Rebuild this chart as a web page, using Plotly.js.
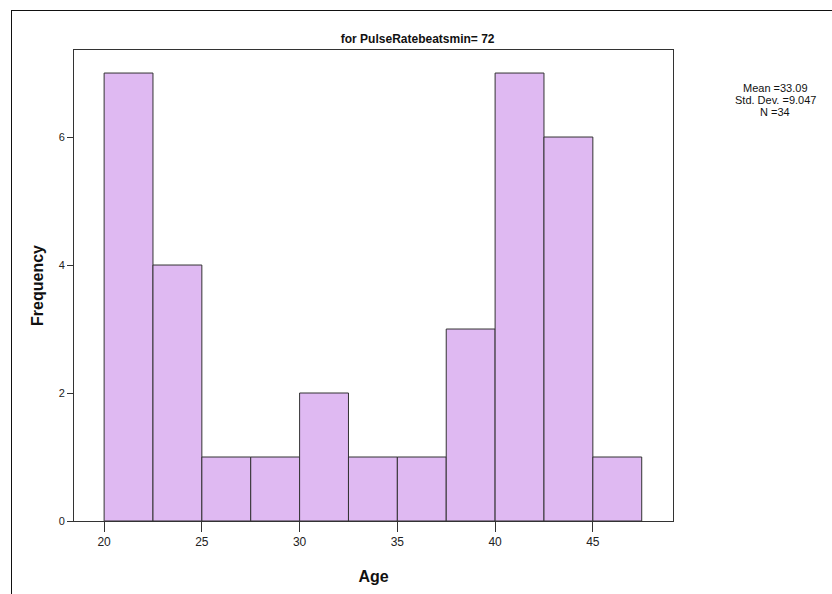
<!DOCTYPE html>
<html>
<head>
<meta charset="utf-8">
<script src="https://cdn.plot.ly/plotly-3.0.1.min.js"></script>
<style>
  html, body { margin: 0; padding: 0; background: #fff; }
  #frame { position: absolute; left: 11px; top: 10px; width: 900px; height: 700px;
           border-left: 1px solid #111; border-top: 1px solid #111; z-index: 0; }
  #chart { position: absolute; left: 0; top: 0; width: 832px; height: 594px; z-index: 1; }
</style>
</head>
<body>
<div id="frame"></div>
<div id="chart"></div>
<script>
// Histogram bins (left edges) and frequencies
const binStarts = [20, 22.5, 25, 27.5, 30, 32.5, 35, 37.5, 40, 42.5, 45];
const binWidth = 2.5;
const frequencies = [7, 4, 1, 1, 2, 1, 1, 3, 7, 6, 1];
const xTicks = [20, 25, 30, 35, 40, 45];
const yTicks = [0, 2, 4, 6];
const statsLines = ["Mean =33.09", "Std. Dev. =9.047", "N =34"];
const chartTitle = "for PulseRatebeatsmin= 72";

const centers = binStarts.map(s => s + binWidth / 2);
const FONT = "Liberation Sans, Arial, sans-serif";

const trace = {
  type: 'bar',
  x: centers,
  y: frequencies,
  width: binStarts.map(() => binWidth),
  marker: { color: '#dfb9f2', line: { color: '#333333', width: 1 } },
  hoverinfo: 'x+y'
};

const statY = [0.9193, 0.8938, 0.8683];
const annotations = statsLines.map((t, i) => ({
  text: t, xref: 'paper', yref: 'paper', x: 1.171, y: statY[i],
  xanchor: 'center', yanchor: 'middle', showarrow: false,
  font: { family: FONT, size: 11, color: '#111' }
}));

const layout = {
  width: 832, height: 594,
  margin: { l: 74, r: 159, t: 50, b: 73 },
  paper_bgcolor: 'rgba(0,0,0,0)',
  plot_bgcolor: '#ffffff',
  showlegend: false,
  bargap: 0,
  title: {
    text: '<b>' + chartTitle + '</b>',
    xref: 'container', yref: 'container', x: 0.502, y: 1 - 39 / 594,
    xanchor: 'center', yanchor: 'middle',
    font: { family: FONT, size: 12, color: '#111' }
  },
  xaxis: {
    range: [18.46, 49.1],
    tickvals: xTicks, ticktext: xTicks.map(String),
    ticks: 'outside', ticklen: 10, tickwidth: 1, tickcolor: '#333',
    showline: true, linecolor: '#333', linewidth: 1, mirror: true,
    showgrid: false, zeroline: false,
    tickfont: { family: FONT, size: 12, color: '#222' },
    title: { text: '<b>Age</b>', standoff: 22, font: { family: FONT, size: 16, color: '#111' } }
  },
  yaxis: {
    range: [0, 7.36],
    tickvals: yTicks, ticktext: yTicks.map(String),
    ticks: 'outside', ticklen: 6, tickwidth: 1, tickcolor: '#333',
    showline: true, linecolor: '#333', linewidth: 1, mirror: true,
    showgrid: false, zeroline: false,
    tickfont: { family: FONT, size: 11, color: '#222' },
    title: { text: '<b>Frequency</b>', standoff: 11, font: { family: FONT, size: 16, color: '#111' } }
  },
  annotations: annotations
};

Plotly.newPlot('chart', [trace], layout, { displayModeBar: false, staticPlot: true });
</script>
</body>
</html>
